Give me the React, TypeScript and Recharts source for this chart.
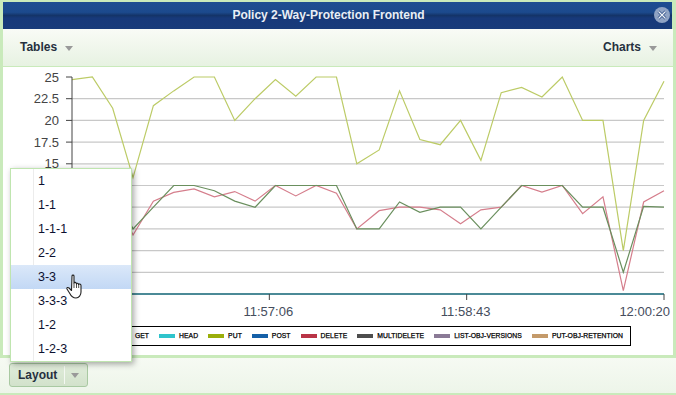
import React from "react";
import { LineChart, Line, XAxis, YAxis, CartesianGrid, Legend } from "recharts";

const times = [
  "11:55:29","11:55:39","11:55:49","11:55:59","11:56:09","11:56:19","11:56:29","11:56:39","11:56:49","11:56:59",
  "11:57:09","11:57:19","11:57:29","11:57:39","11:57:49","11:58:00","11:58:10","11:58:20","11:58:30","11:58:40",
  "11:58:50","11:59:00","11:59:10","11:59:20","11:59:30","11:59:40","11:59:50","12:00:00","12:00:10","12:00:20",
];
const putValues = [24.7,25,21.4,13.4,21.7,23.4,25,25,20,22.5,24.7,22.8,25,25,15,16.6,23.4,17.8,17.2,20,15.4,23.2,23.8,22.7,25,20,20,5,20,24.5];
const deleteValues = [12.5,12.5,12,6.8,10.7,11.7,12.1,11.2,11.8,10.7,12.5,11.3,12.5,11.6,7.5,9.6,10,10,9.7,8.1,9.7,10,12.5,11.75,12.5,9.25,11.2,0.4,10.6,11.9];
const multiDeleteValues = [12.5,12.5,12,7.5,10,12.5,12.5,11.9,10.7,10,12.5,12.5,12.5,12.5,7.5,7.5,10.6,9.4,10,10,7.5,10,12.5,12.5,12.5,10,10,2.5,10.1,10];
const zeroValues = [0,0,0,0,0,0,0,0,0,0,0,0,0,0,0,0,0,0,0,0,0,0,0,0,0,0,0,0,0,0];
const xTicks = ["11:55:29", "11:57:06", "11:58:43", "12:00:20"];
const yTicks = [0, 2.5, 5, 7.5, 10, 12.5, 15, 17.5, 20, 22.5, 25];
const gridValues = [2.5, 5, 7.5, 10, 12.5, 15, 17.5, 20, 22.5];
const legendNames = ["GET", "HEAD", "PUT", "POST", "DELETE", "MULTIDELETE", "LIST-OBJ-VERSIONS", "PUT-OBJ-RETENTION"];
const legendColors = ["#8a8fd0", "#2fc4cc", "#9aae0a", "#1560a8", "#b93446", "#4d4d4d", "#8a7a96", "#c49a6a"];
const zeroSeries = ["GET", "HEAD", "POST", "LIST-OBJ-VERSIONS", "PUT-OBJ-RETENTION"];
const menuItems = ["1", "1-1", "1-1-1", "2-2", "3-3", "3-3-3", "1-2", "1-2-3"];
const activeItem = "3-3";

const toSec = (s: string) => {
  const [h, m, d] = s.split(":").map(Number);
  return h * 3600 + m * 60 + d;
};
const rows = times.map((t, i) => ({
  t: toSec(t),
  GET: zeroValues[i],
  HEAD: zeroValues[i],
  PUT: putValues[i],
  POST: zeroValues[i],
  DELETE: deleteValues[i],
  MULTIDELETE: multiDeleteValues[i],
  "LIST-OBJ-VERSIONS": zeroValues[i],
  "PUT-OBJ-RETENTION": zeroValues[i],
}));
const font = "'Liberation Sans', Arial, sans-serif";

const XTick = (p: any) => {
  const sec = p.payload.value;
  const h = Math.floor(sec / 3600), m = Math.floor((sec % 3600) / 60), s = sec % 60;
  const two = (n: number) => String(n).padStart(2, "0");
  const label = `${two(h)}:${two(m)}:${two(s)}`;
  if (label === xTicks[0]) return <g />; // covered by the open menu in the reference
  const last = label === xTicks[xTicks.length - 1];
  return (
    <text x={last ? p.x + 6 : p.x - 1} y={316} textAnchor={last ? "end" : "middle"} fontFamily={font} fontSize={13} fill="#454d5d">
      {label}
    </text>
  );
};

const LegendBox = () => (
  <div style={{ display: "flex", alignItems: "center", justifyContent: "flex-end", height: 18, border: "1px solid #000", background: "#fff", paddingRight: 7, boxSizing: "content-box", fontFamily: font }}>
    {legendNames.map((n, i) => (
      <div key={n} style={{ display: "flex", alignItems: "center", marginLeft: 10 }}>
        <span style={{ display: "inline-block", width: 16, height: 4, background: legendColors[i], marginRight: 4 }} />
        <span style={{ position: "relative", top: -1, fontSize: 6.8, color: "#000", fontWeight: 400, WebkitTextStroke: "0.25px #000", whiteSpace: "nowrap", letterSpacing: 0.05 }}>{n}</span>
      </div>
    ))}
  </div>
);

const Arrow = ({ x, y }: { x: number; y: number }) => (
  <div style={{ position: "absolute", left: x, top: y, width: 0, height: 0, borderLeft: "4px solid transparent", borderRight: "4px solid transparent", borderTop: "5px solid #999" }} />
);

export default function App() {
  return (
    <div style={{ position: "absolute", left: 0, top: 0, width: 676, height: 395, overflow: "hidden", background: "#c9eabb", fontFamily: font }}>
      {/* title */}
      <div style={{ position: "absolute", left: 3, top: 2, width: 669, height: 27, background: "linear-gradient(#1d4c92 0%, #1c4a8d 38%, #143468 50%, #17397a 60%, #183b7a 100%)" }} />
      <div style={{ position: "absolute", left: 0, top: 8, width: 657, textAlign: "center", color: "#e8eef6", fontWeight: 700, fontSize: 12, lineHeight: "14px" }}>
        Policy 2-Way-Protection Frontend
      </div>
      <svg style={{ position: "absolute", left: 653, top: 6 }} width={18} height={18}>
        <circle cx={9} cy={9} r={8} fill="#8fa3c4" />
        <path d="M5.5 5.5 L12.5 12.5 M12.5 5.5 L5.5 12.5" stroke="#1c3f7c" strokeWidth={2.6} />
        <path d="M5.5 5.5 L12.5 12.5 M12.5 5.5 L5.5 12.5" stroke="#eef2f8" strokeWidth={1.4} />
      </svg>
      {/* toolbar */}
      <div style={{ position: "absolute", left: 3, top: 29, width: 670, height: 37, background: "linear-gradient(#f9fbf6, #e7f2e2)" }} />
      <div style={{ position: "absolute", left: 20, top: 40, fontSize: 12, fontWeight: 700, color: "#26303f", lineHeight: "14px" }}>Tables</div>
      <Arrow x={65} y={46} />
      <div style={{ position: "absolute", left: 603, top: 40, fontSize: 12, fontWeight: 700, color: "#26303f", lineHeight: "14px" }}>Charts</div>
      <Arrow x={649} y={46} />
      {/* panel */}
      <div style={{ position: "absolute", left: 3, top: 67, width: 670, height: 288, background: "#fff" }} />
      {/* footer */}
      <div style={{ position: "absolute", left: 0, top: 358, width: 676, height: 35, background: "linear-gradient(#f6faf3, #edf5e9)" }} />
      {/* chart */}
      <div style={{ position: "absolute", left: 0, top: 0 }}>
        <LineChart width={676} height={395} data={rows} margin={{ top: 77, right: 12, left: 0, bottom: 0 }}>
          <CartesianGrid horizontalValues={gridValues} vertical={false} stroke="#c8c8c8" strokeWidth={1.2} />
          <XAxis
            dataKey="t"
            type="number"
            domain={[toSec(xTicks[0]), toSec(xTicks[3])]}
            ticks={xTicks.map(toSec)}
            height={101}
            tickSize={6}
            axisLine={false}
            stroke="#444"
            tick={XTick}
            interval={0}
          />
          <YAxis
            domain={[0, 25]}
            ticks={yTicks}
            width={72}
            tickSize={6}
            tickMargin={7}
            stroke="#444"
            interval={0}
            tickFormatter={(v: number) => (v < 15 ? "" : String(v))}
            tick={{ fontFamily: font, fontSize: 13, fill: "#444" }}
          />
          <Legend verticalAlign="middle" content={LegendBox} wrapperStyle={{ left: 60, top: 326, width: 571, height: 20, bottom: "auto", margin: 0 }} />
          {zeroSeries.map((k) => (
            <Line key={k} dataKey={k} stroke="#4b8a97" strokeWidth={2.2} dot={false} isAnimationActive={false} />
          ))}
          <Line dataKey="PUT" stroke="#bccb66" strokeWidth={1.2} dot={false} isAnimationActive={false} />
          <Line dataKey="DELETE" stroke="#d57e8c" strokeWidth={1.2} dot={false} isAnimationActive={false} />
          <Line dataKey="MULTIDELETE" stroke="#6a8f5e" strokeWidth={1.2} dot={false} isAnimationActive={false} />
        </LineChart>
      </div>
      {/* button */}
      <div style={{ position: "absolute", left: 9, top: 363, width: 77, height: 22, border: "1px solid #a9c9a2", borderRadius: 3, background: "linear-gradient(#e0ecda, #d2e2cb)" }} />
      <div style={{ position: "absolute", left: 18, top: 368, fontSize: 12, fontWeight: 700, color: "#26303f", lineHeight: "14px" }}>Layout</div>
      <div style={{ position: "absolute", left: 64, top: 366, width: 1, height: 18, background: "#f4f8f2" }} />
      <Arrow x={71} y={373} />
      {/* menu */}
      <div style={{ position: "absolute", left: 10, top: 168, width: 120, height: 192, border: "1px solid #bfe5af", background: "#fff", boxShadow: "2px 2px 6px rgba(0,0,0,0.35)" }}>
        <div style={{ position: "absolute", left: 22, top: 0, width: 1, height: 192, background: "#ececec" }} />
        {menuItems.map((m, i) => (
          <div key={m} style={{ position: "absolute", left: 0, top: i * 24, width: 120, height: 24, background: m === activeItem ? "linear-gradient(#dbe8f9, #c2d8f5)" : "transparent" }}>
            <div style={{ position: "absolute", left: 27, top: 5, fontSize: 12.5, lineHeight: "15px", color: "#0c1030" }}>{m}</div>
          </div>
        ))}
      </div>
      {/* hand cursor */}
      <svg style={{ position: "absolute", left: 66, top: 274 }} width={20} height={26} viewBox="0 0 20 26">
        <path d="M6 2 C6 0.8 8 0.8 8 2 L8 9 C8 8 10 8 10 9 L10.5 10 C10.5 9 12.5 9 12.5 10.5 C13 9.6 15 10 15 11.5 L15 18 C15 21 13 24 10 24 C7 24 5 22 3.5 19 L1 15 C0.5 13.5 2 13 3 14 L5.5 16.5 Z" fill="#fff" stroke="#222" strokeWidth={1.1} strokeLinejoin="round" />
        <path d="M8 9 L8 14 M10.5 10 L10.5 14 M12.7 10.5 L12.7 14" stroke="#222" strokeWidth={0.8} />
      </svg>
    </div>
  );
}
